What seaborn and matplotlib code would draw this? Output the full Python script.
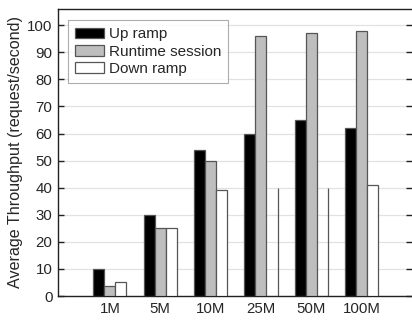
import matplotlib
matplotlib.use("Agg")
import matplotlib.pyplot as plt
import seaborn as sns
import pandas as pd

sizes = ["1M", "5M", "10M", "25M", "50M", "100M"]
series_names = ["Up ramp", "Runtime session", "Down ramp"]
up_ramp = [10, 30, 54, 60, 65, 62]
runtime_session = [3.7, 25, 50, 96, 97, 98]
down_ramp = [5, 25, 39, 40, 40, 41]
y_ticks = list(range(0, 101, 10))

df = pd.DataFrame({
    "size": sizes * 3,
    "series": [n for n in series_names for _ in sizes],
    "value": up_ramp + runtime_session + down_ramp,
})

sns.set_style("white")
plt.rcParams["font.family"] = ["Liberation Sans", "DejaVu Sans"]

fig = plt.figure(figsize=(4.12, 3.2), dpi=100)
ax = fig.add_axes([58 / 412, 1 - 296 / 320, 1 - 58 / 412, (296 - 9) / 320])

palette = {"Up ramp": "#000000", "Runtime session": "#bebebe", "Down ramp": "#ffffff"}
sns.barplot(data=df, x="size", y="value", hue="series", order=sizes,
            hue_order=series_names, palette=palette, width=0.66,
            edgecolor="#555555", linewidth=0.9, saturation=1, ax=ax, zorder=3)

# the 25M and 50M down-ramp bars are shown only by their right edge
down_patches = ax.patches[2 * len(sizes):3 * len(sizes)]
for i, p in enumerate(down_patches):
    if sizes[i] in ("25M", "50M"):
        p.set_linewidth(0)
        p.set_facecolor("none")
        xr = p.get_x() + p.get_width()
        ax.vlines(xr, 0, p.get_height(), color="#555555", linewidth=0.9, zorder=4)

ax.set_xlim(-1.03, 6.0)
ax.set_ylim(0, 106)
ax.set_yticks(y_ticks)
ax.yaxis.grid(True, color="#e2e2e2", linewidth=0.9, zorder=0)
ax.set_axisbelow(True)
ax.set_xlabel("")
ax.set_ylabel("Average Throughput (request/second)", fontsize=11.6, labelpad=3)

for s in ["left", "bottom", "top"]:
    ax.spines[s].set_color("#222222")
    ax.spines[s].set_linewidth(1.0)
ax.spines["right"].set_visible(False)

ax.tick_params(axis="y", direction="in", left=True, right=True, length=4,
               width=1.0, color="#222222", labelsize=10.8, pad=4)
ax.tick_params(axis="x", length=0, labelsize=10.8, pad=4)

leg = ax.legend(loc="upper left", bbox_to_anchor=(0.028, 0.96), fontsize=11.0,
                frameon=True, fancybox=False, handlelength=1.9, handleheight=0.7,
                handletextpad=0.35, labelspacing=0.22, borderpad=0.45,
                borderaxespad=0)
leg.get_frame().set_edgecolor("#999999")
leg.get_frame().set_linewidth(0.8)
for h in leg.legend_handles:
    h.set_edgecolor("#555555")
    h.set_linewidth(0.9)

fig.savefig("out.png", dpi=100)
